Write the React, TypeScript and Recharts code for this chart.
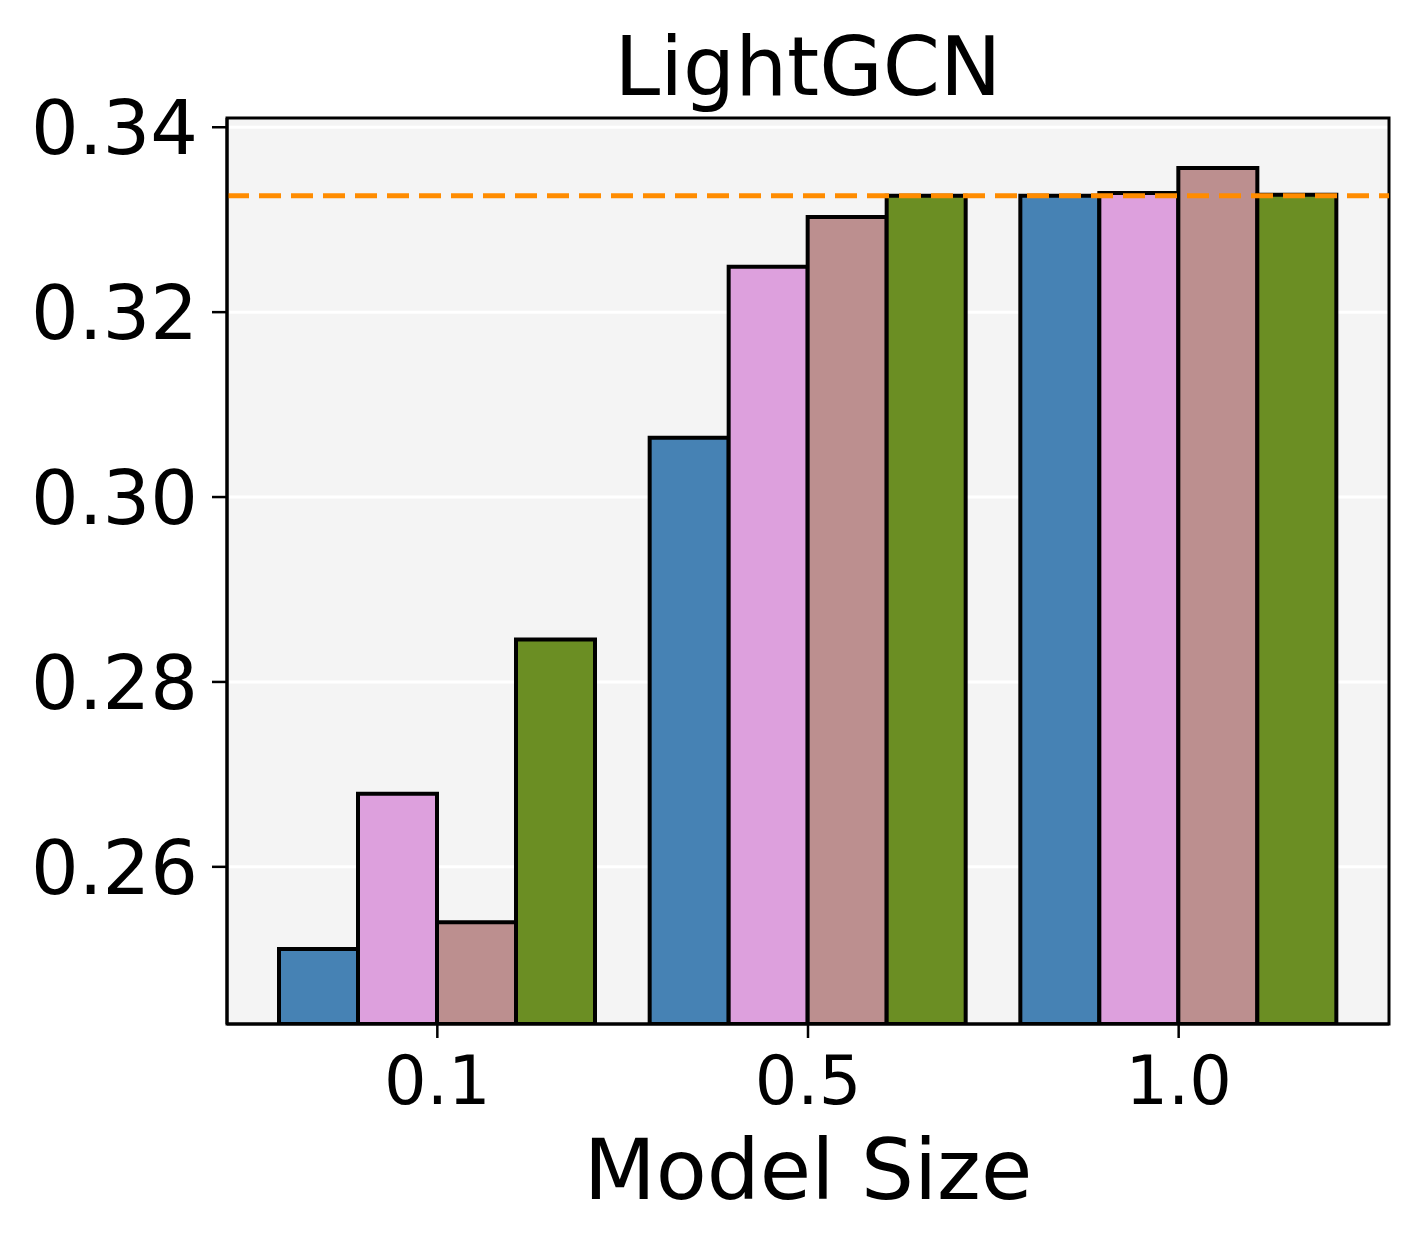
import React from 'react';
import { ComposedChart, Bar, XAxis, YAxis, CartesianGrid, ReferenceLine, ReferenceArea } from 'recharts';

const sizes = ['0.1', '0.5', '1.0'];
const seriesBlue = [0.2511, 0.3064, 0.3326];
const seriesPink = [0.2679, 0.3249, 0.3329];
const seriesBrown = [0.2540, 0.3303, 0.3356];
const seriesGreen = [0.2846, 0.3326, 0.3327];
const baselineValue = 0.3326;
const yTicks = [0.26, 0.28, 0.30, 0.32, 0.34];
const yDomain: [number, number] = [0.2430, 0.3410];
const titleText = 'LightGCN';
const xLabelText = 'Model Size';

const data = sizes.map((s, i) => ({
  size: s,
  blue: seriesBlue[i],
  pink: seriesPink[i],
  brown: seriesBrown[i],
  green: seriesGreen[i],
}));

const FONT = '"DejaVu Sans", sans-serif';

const YTick = (props: any) => {
  const { x, y, payload } = props;
  return (
    <text x={x} y={y} dy={27} textAnchor="end" fontSize={75} fontFamily={FONT} fill="#000">
      {Number(payload.value).toFixed(2)}
    </text>
  );
};

const XTick = (props: any) => {
  const { x, y, payload } = props;
  return (
    <text x={x} y={y} dy={66} textAnchor="middle" fontSize={67} fontFamily={FONT} fill="#000">
      {payload.value}
    </text>
  );
};

export default function App() {
  return (
    <div style={{ position: 'absolute', left: 0, top: 0, width: 1418, height: 1245, background: '#fff' }}>
      <ComposedChart
        width={1418}
        height={1245}
        data={data}
        margin={{ top: 118, right: 29, bottom: 0, left: 0 }}
        barCategoryGap={27}
        barGap={0}
      >
        <CartesianGrid vertical={false} stroke="#ffffff" strokeWidth={3} fill="#f4f4f4" />
        <XAxis
          dataKey="size"
          type="category"
          height={221}
          padding={{ left: 25, right: 25 }}
          axisLine={{ stroke: '#000', strokeWidth: 3 }}
          tickLine={{ stroke: '#000', strokeWidth: 2.5 }}
          tickSize={14}
          tickMargin={0}
          tick={<XTick />}
          interval={0}
          label={{
            content: (p: any) => {
              const vb = p.viewBox;
              return (
                <text x={vb.x + vb.width / 2} y={vb.y + 175} textAnchor="middle" fontSize={83.5} fontFamily={FONT} fill="#000">
                  {xLabelText}
                </text>
              );
            },
          }}
        />
        <XAxis xAxisId="frame" dataKey="size" type="category" hide />
        <YAxis
          type="number"
          domain={yDomain}
          allowDataOverflow
          ticks={yTicks}
          width={227}
          axisLine={{ stroke: '#000', strokeWidth: 3 }}
          tickLine={{ stroke: '#000', strokeWidth: 2.5 }}
          tickSize={15}
          tickMargin={14}
          tick={<YTick />}
          interval={0}
        />
        <Bar dataKey="blue" fill="#4682B4" stroke="#000" strokeWidth={4} isAnimationActive={false} />
        <Bar dataKey="pink" fill="#DDA0DD" stroke="#000" strokeWidth={4} isAnimationActive={false} />
        <Bar dataKey="brown" fill="#BC8F8F" stroke="#000" strokeWidth={4} isAnimationActive={false} />
        <Bar dataKey="green" fill="#6B8E23" stroke="#000" strokeWidth={4} isAnimationActive={false} />
        <ReferenceLine y={baselineValue} stroke="#FF8C00" strokeWidth={5} strokeDasharray="22 10" />
        <ReferenceArea
          xAxisId="frame"
          y1={yDomain[0]}
          y2={yDomain[1]}
          fill="none"
          fillOpacity={0}
          stroke="#000"
          strokeWidth={3}
          ifOverflow="visible"
          label={{
            content: (p: any) => {
              const vb = p.viewBox;
              return (
                <text x={vb.x + vb.width / 2} y={vb.y - 23} textAnchor="middle" fontSize={82} fontFamily={FONT} fill="#000">
                  {titleText}
                </text>
              );
            },
          }}
        />
      </ComposedChart>
    </div>
  );
}
